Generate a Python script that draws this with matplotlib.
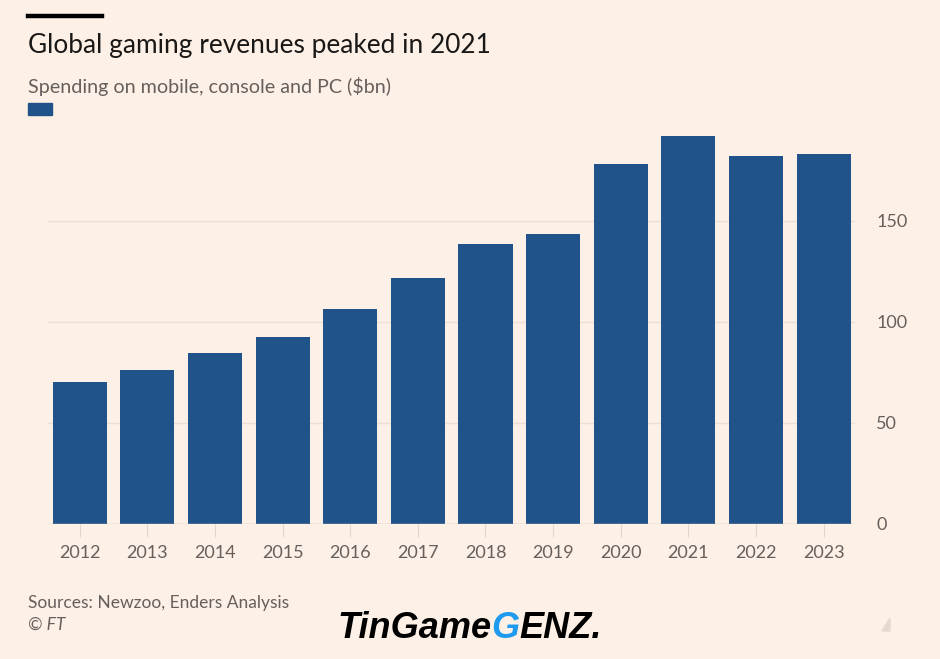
import matplotlib.pyplot as plt
import numpy as np

# data
years = ["2012", "2013", "2014", "2015", "2016", "2017",
         "2018", "2019", "2020", "2021", "2022", "2023"]
revenue = [70.4, 76.4, 84.4, 92.3, 106.4, 121.7,
           138.4, 143.3, 178.3, 192.1, 182.3, 183.1]
yticks = [0, 50, 100, 150]

bg = "#FDF0E6"
bar_col = "#20538A"
grey = "#66605C"

plt.rcParams["font.family"] = ["Lato", "DejaVu Sans"]

fig = plt.figure(figsize=(9.4, 6.59), dpi=100, facecolor=bg)
ax = fig.add_axes([0.051, 0.205, 0.859, 0.601], facecolor=bg)

x = np.arange(len(years))
ax.bar(x, revenue, width=0.8, color=bar_col, zorder=3)

ax.set_xlim(-0.47, 11.47)
ax.set_ylim(0, 196)
ax.set_xticks(x)
ax.set_xticklabels(years)
ax.set_yticks(yticks)
ax.yaxis.tick_right()
ax.grid(axis="y", color="#EEDFD2", linewidth=1, zorder=0)
for s in ax.spines.values():
    s.set_visible(False)
ax.axhline(0, color="#D9CCC0", linewidth=1, zorder=4)
ax.tick_params(axis="x", length=9, color="#E2D5C9", labelsize=13, labelcolor=grey, pad=6)
ax.tick_params(axis="y", length=0, labelsize=13, labelcolor=grey, pad=15)

# header
fig.add_artist(plt.Line2D([28 / 940, 102 / 940], [1 - 15.5 / 659, 1 - 15.5 / 659],
                          color="black", linewidth=3.2))
fig.text(28 / 940, 1 - 45 / 659, "Global gaming revenues peaked in 2021",
         fontsize=18.9, color="#1A1817", va="center", ha="left")
fig.text(28 / 940, 1 - 86 / 659, "Spending on mobile, console and PC ($bn)",
         fontsize=14.2, color=grey, va="center", ha="left")
fig.add_artist(plt.Rectangle((28 / 940, 1 - 115 / 659), 24 / 940, 12 / 659,
                             color=bar_col, transform=fig.transFigure))

# footer
fig.text(28 / 940, 1 - 603 / 659, "Sources: Newzoo, Enders Analysis",
         fontsize=12.5, color=grey, va="center", ha="left")
fig.text(28 / 940, 1 - 625 / 659, "© FT", fontsize=12.5, color=grey,
         va="center", ha="left", style="italic")
fig.add_artist(plt.Polygon([[890 / 940, 1 - 631 / 659], [890 / 940, 1 - 618 / 659],
                            [882 / 940, 1 - 631 / 659]], closed=True,
                           color="#E4DAD1", transform=fig.transFigure))

# watermark
wm_kw = dict(fontsize=26, fontweight="bold", style="italic", va="center",
             ha="left", family=["Liberation Sans", "DejaVu Sans"])
wm = fig.text(337 / 940, 1 - 628 / 659, "TinGame", color="black", **wm_kw)
fig.canvas.draw()
bb = wm.get_window_extent()
g = fig.text(bb.x1 / 940, 1 - 628 / 659, "G", color="#1E9BEF", **wm_kw)
fig.canvas.draw()
bb2 = g.get_window_extent()
fig.text(bb2.x1 / 940, 1 - 628 / 659, "ENZ.", color="black", **wm_kw)

fig.savefig("out.png", dpi=100, facecolor=bg)
